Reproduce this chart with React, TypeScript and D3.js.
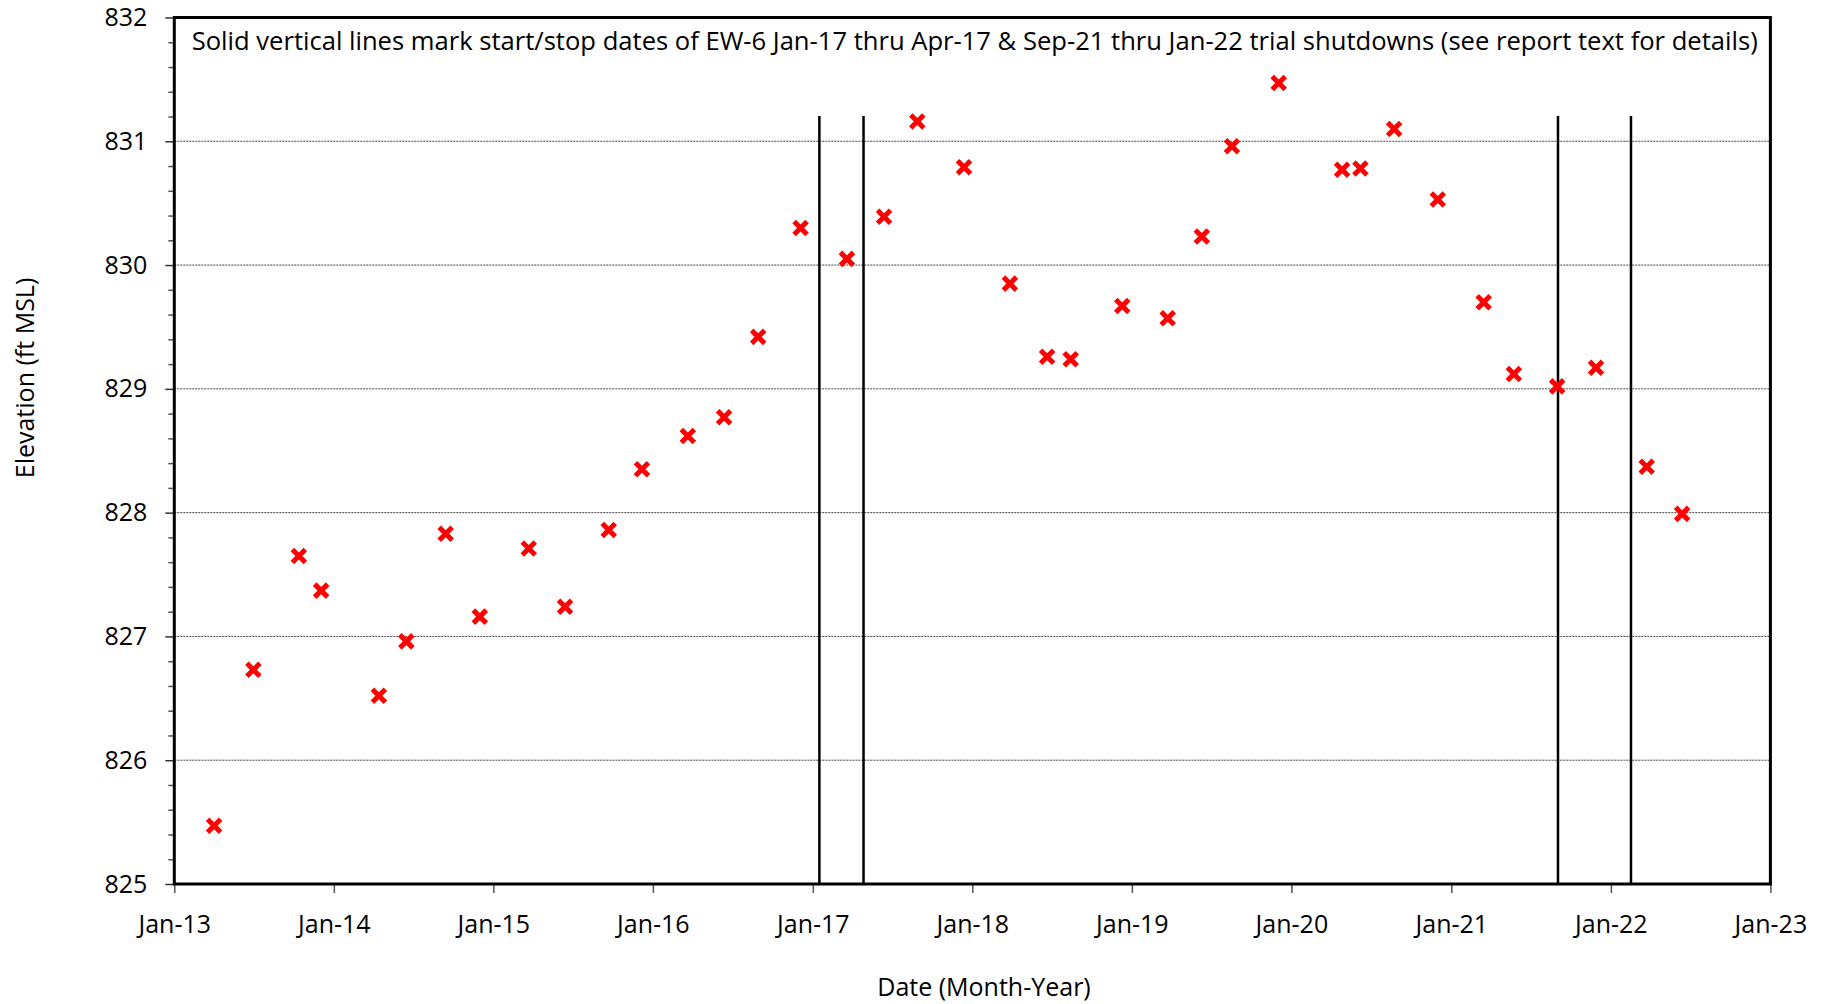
import * as d3 from 'd3';
import React from 'react';

// sampling dates and groundwater elevations (ft MSL)
const sampleDates = [
    '2013-04-02', '2013-07-01', '2013-10-13', '2013-12-03',
    '2014-04-14', '2014-06-16', '2014-09-14', '2014-12-01',
    '2015-03-23', '2015-06-14', '2015-09-22', '2015-12-07',
    '2016-03-21', '2016-06-12', '2016-08-29', '2016-12-04',
    '2017-03-20', '2017-06-13', '2017-08-28', '2017-12-13',
    '2018-03-28', '2018-06-21', '2018-08-14', '2018-12-10',
    '2019-03-24', '2019-06-10', '2019-08-18', '2019-12-03',
    '2020-04-26', '2020-06-07', '2020-08-23', '2020-12-01',
    '2021-03-16', '2021-05-24', '2021-08-31', '2021-11-28',
    '2022-03-24', '2022-06-13',
];
const elevations = [
    825.47, 826.73, 827.65, 827.37,
    826.52, 826.96, 827.83, 827.16,
    827.71, 827.24, 827.86, 828.35,
    828.62, 828.77, 829.42, 830.30,
    830.05, 830.39, 831.16, 830.79,
    829.85, 829.26, 829.24, 829.67,
    829.57, 830.23, 830.96, 831.47,
    830.77, 830.78, 831.10, 830.53,
    829.70, 829.12, 829.02, 829.17,
    828.37, 827.99,
];

// start/stop of the EW-6 trial shutdowns
const shutdownDates = ['2017-01-16', '2017-04-27', '2021-09-02', '2022-02-16'];

const yearTicks = ['2013-01-01', '2014-01-01', '2015-01-01', '2016-01-01', '2017-01-01',
    '2018-01-01', '2019-01-01', '2020-01-01', '2021-01-01', '2022-01-01', '2023-01-01'];
const elevationTicks = [825, 826, 827, 828, 829, 830, 831, 832];
const gridValues = [826, 827, 828, 829, 830, 831];

const titleText = 'Solid vertical lines mark start/stop dates of EW-6 Jan-17 thru Apr-17 & Sep-21 thru Jan-22 trial shutdowns (see report text for details)';
const xLabel = 'Date (Month-Year)';
const yLabel = 'Elevation (ft MSL)';

const params = {
    width: 1828,
    height: 1004,
    left: 174.3,
    right: 1770.4,
    top: 17.5,
    bottom: 884,
    lineTop: 116,
    font: "'Open Sans', 'Noto Sans', sans-serif",
};

// an "x" marker, stroked like excel's cross marker
const symbolTimes = {
    draw(context, size){
        const r = Math.sqrt(size)/2;
        context.moveTo(-r, -r);
        context.lineTo(r, r);
        context.moveTo(-r, r);
        context.lineTo(r, -r);
    }
};

class ElevationChart extends React.Component{
    constructor(props){
        super(props);
        this.renderChart = this.renderChart.bind(this);
    }

    componentDidMount(){
        this.renderChart();
    }

    renderChart(){
        const parse = d3.timeParse('%Y-%m-%d');
        const data = sampleDates.map((d,i)=>({date: parse(d), value: elevations[i]}));

        const xScale = d3.scaleTime()
            .domain([parse(yearTicks[0]), parse(yearTicks[yearTicks.length-1])])
            .range([params.left, params.right]);

        const yScale = d3.scaleLinear()
            .domain([825, 832])
            .range([params.bottom, params.top]);

        const svg = d3.select(this.svg);
        svg.selectAll('*').remove();

        // horizontal grid
        svg.append('g')
            .selectAll('line')
            .data(gridValues)
            .enter().append('line')
                .attr('x1', params.left)
                .attr('x2', params.right)
                .attr('y1', d=>yScale(d))
                .attr('y2', d=>yScale(d))
                .attr('stroke', '#444')
                .attr('stroke-width', 1)
                .attr('stroke-dasharray', '2,1');

        // shutdown lines
        svg.append('g')
            .selectAll('line')
            .data(shutdownDates.map(parse))
            .enter().append('line')
                .attr('x1', d=>xScale(d))
                .attr('x2', d=>xScale(d))
                .attr('y1', params.lineTop)
                .attr('y2', params.bottom)
                .attr('stroke', '#000')
                .attr('stroke-width', 2.5);

        // minor y ticks
        const minorTicks = d3.range(0, 36).map(i=>825 + i*0.2).filter(v=>Math.abs(v-Math.round(v))>0.01);
        svg.append('g')
            .attr('transform', `translate(${params.left},0)`)
            .call(d3.axisLeft(yScale).tickValues(minorTicks).tickSize(6).tickFormat(()=>''))
            .call(g=>g.select('.domain').remove())
            .call(g=>g.selectAll('line').attr('stroke', '#555').attr('stroke-width', 1.5));

        // major y ticks
        svg.append('g')
            .attr('transform', `translate(${params.left},0)`)
            .call(d3.axisLeft(yScale).tickValues(elevationTicks).tickSize(9).tickPadding(18).tickFormat(d3.format('d')))
            .call(g=>g.select('.domain').remove())
            .call(g=>g.selectAll('line').attr('stroke', '#333').attr('stroke-width', 1.5))
            .call(g=>g.selectAll('text')
                .attr('font-family', params.font)
                .attr('font-size', 25)
                .attr('fill', '#000'));

        // x axis
        svg.append('g')
            .attr('transform', `translate(0,${params.bottom})`)
            .call(d3.axisBottom(xScale).tickValues(yearTicks.map(parse)).tickSize(9).tickPadding(22).tickFormat(d3.timeFormat('%b-%y')))
            .call(g=>g.select('.domain').remove())
            .call(g=>g.selectAll('line').attr('stroke', '#555').attr('stroke-width', 1.5))
            .call(g=>g.selectAll('text')
                .attr('font-family', params.font)
                .attr('font-size', 25)
                .attr('fill', '#000'));

        // plot frame
        svg.append('rect')
            .attr('x', params.left)
            .attr('y', params.top)
            .attr('width', params.right-params.left)
            .attr('height', params.bottom-params.top)
            .attr('fill', 'none')
            .attr('stroke', '#000')
            .attr('stroke-width', 3);

        // data points
        svg.append('g')
            .selectAll('path')
            .data(data)
            .enter().append('path')
                .attr('transform', d=>`translate(${xScale(d.date)},${yScale(d.value)})`)
                .attr('d', d3.symbol().type(symbolTimes).size(169))
                .attr('fill', 'none')
                .attr('stroke', '#ff0000')
                .attr('stroke-width', 5);

        // texts
        svg.append('text')
            .attr('x', 191.7)
            .attr('y', 50)
            .attr('font-family', params.font)
            .attr('font-size', 25)
            .attr('textLength', 1566)
            .attr('lengthAdjust', 'spacingAndGlyphs')
            .text(titleText);

        svg.append('text')
            .attr('x', 984)
            .attr('y', 996)
            .attr('text-anchor', 'middle')
            .attr('font-family', params.font)
            .attr('font-size', 25)
            .text(xLabel);

        svg.append('text')
            .attr('transform', 'translate(33.5,378) rotate(-90)')
            .attr('text-anchor', 'middle')
            .attr('font-family', params.font)
            .attr('font-size', 25)
            .text(yLabel);
    }

    render(){
        return(
            <svg ref={node => this.svg = node}
                width={params.width}
                height={params.height}
                style={{position:'absolute', left:0, top:0, background:'#fff'}}>
            </svg>
        );
    }
}

export default function App(){
    return <ElevationChart />;
}
